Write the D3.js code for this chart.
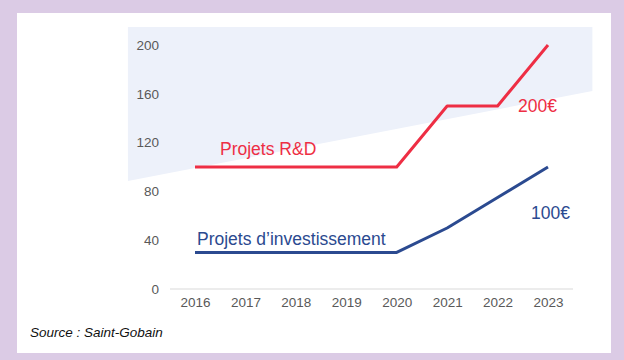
<!DOCTYPE html>
<html><head><meta charset="utf-8">
<script src="https://cdn.jsdelivr.net/npm/d3@7"></script>
<style>
html,body{margin:0;padding:0;background:#dbcbe5;}
svg{display:block;font-family:"Liberation Sans",Arial,sans-serif;}
</style></head>
<body>
<svg id="c" width="624" height="360"></svg>
<script>
const years = ["2016","2017","2018","2019","2020","2021","2022","2023"];
const rdValues = [100,100,100,100,100,150,150,200];
const investValues = [30,30,30,30,30,50,75,100];
const yTicks = [0,40,80,120,160,200];
// decorative shaded band, in data units (year position, value)
const bandX = [2014.67, 2023.88, 2023.88, 2014.67];
const bandY = [214.8, 214.8, 162.3, 88.5];

const svg = d3.select("#c");
svg.append("rect").attr("x",0).attr("y",0).attr("width",624).attr("height",360).attr("fill","#dbcbe5");
svg.append("rect").attr("x",17).attr("y",13).attr("width",594).attr("height",340).attr("fill","#ffffff");

const x = d3.scalePoint().domain(years).range([195,548]);
const xn = d3.scaleLinear().domain([2016,2023]).range([195,548]);
const y = d3.scaleLinear().domain([0,200]).range([289,45]);

// band
svg.append("polygon")
  .attr("points", bandX.map((v,i)=>[xn(v), y(bandY[i])].join(",")).join(" "))
  .attr("fill","#edf1fa");

// baseline
svg.append("line").attr("x1",170).attr("x2",573).attr("y1",y(0)).attr("y2",y(0))
  .attr("stroke","#d9d9d9").attr("stroke-width",1);

// y axis labels
const yAxis = d3.axisLeft(y).tickValues(yTicks).tickSize(0).tickPadding(0);
const gy = svg.append("g").attr("transform","translate(159,0)").call(yAxis);
gy.select(".domain").remove();
gy.selectAll("text").attr("fill","#595959").style("font-size","13.5px").attr("font-family","Liberation Sans, Arial, sans-serif");

// x axis labels
const xAxis = d3.axisBottom(x).tickSize(0).tickPadding(0);
const gx = svg.append("g").attr("transform","translate(0,297)").call(xAxis);
gx.select(".domain").remove();
gx.selectAll("text").attr("fill","#595959").style("font-size","13.5px").attr("font-family","Liberation Sans, Arial, sans-serif");

const line = d3.line().x((d,i)=>x(years[i])).y(d=>y(d));
svg.append("path").datum(investValues).attr("d",line).attr("fill","none")
  .attr("stroke","#2b4a90").attr("stroke-width",3).attr("stroke-linejoin","round");
svg.append("path").datum(rdValues).attr("d",line).attr("fill","none")
  .attr("stroke","#ee2e44").attr("stroke-width",3).attr("stroke-linejoin","round");

const txt = (t,xx,yy,col,anchor)=>svg.append("text").attr("x",xx).attr("y",yy)
  .attr("fill",col).style("font-size","17.5px").attr("text-anchor",anchor||"start").text(t);
txt("Projets R&D", 220, 155, "#ee2e44");
txt("200€", 557, 112, "#ee2e44", "end");
txt("Projets d’investissement", 197, 245, "#2b4a90");
txt("100€", 570, 219, "#2b4a90", "end");

svg.append("text").attr("x",30).attr("y",337).attr("fill","#111")
  .style("font-size","13.5px").style("font-style","italic").text("Source : Saint-Gobain");
</script>
</body></html>
